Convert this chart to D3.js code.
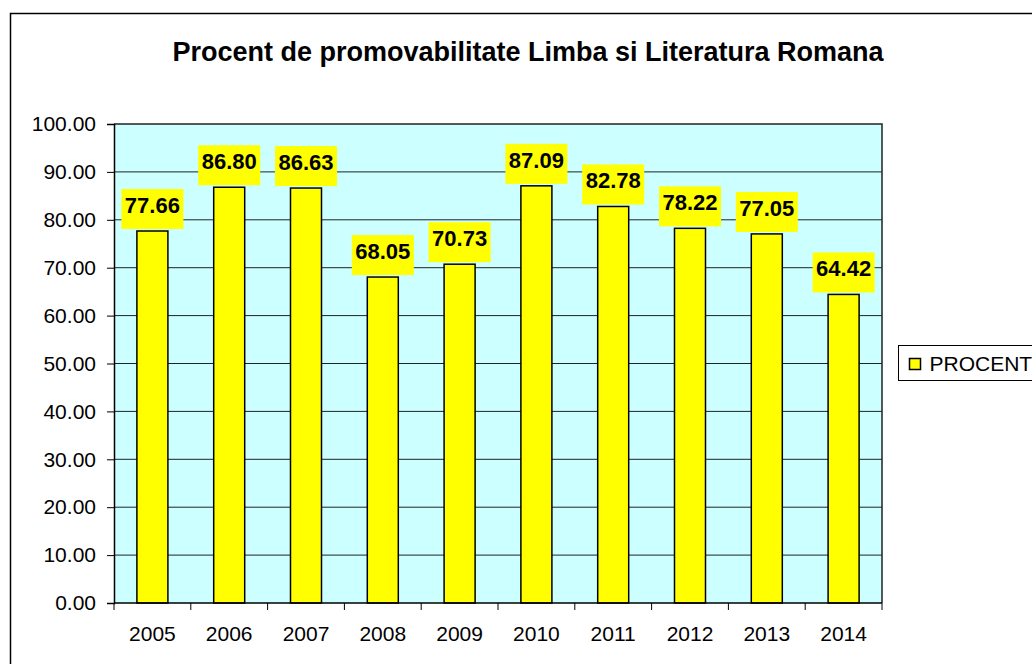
<!DOCTYPE html>
<html>
<head>
<meta charset="utf-8">
<script src="https://cdn.jsdelivr.net/npm/d3@7"></script>
<style>
  body { margin: 0; background: #fff; }
  svg { display: block; font-family: "Liberation Sans", Arial, sans-serif; }
</style>
</head>
<body>
<script>
// chart data
var years = ["2005", "2006", "2007", "2008", "2009", "2010", "2011", "2012", "2013", "2014"]
var procent = [77.66, 86.80, 86.63, 68.05, 70.73, 87.09, 82.78, 78.22, 77.05, 64.42]
var yTicks = [0, 10, 20, 30, 40, 50, 60, 70, 80, 90, 100]
var seriesName = "PROCENT"
var title = "Procent de promovabilitate Limba si Literatura Romana"

var W = 1032, H = 664
var plot = {left: 114, right: 882, top: 124, bottom: 603}

var svg = d3.select("body").append("svg")
    .attr("width", W)
    .attr("height", H)

// outer chart border (runs off the right and bottom)
svg.append("rect")
    .attr("x", 10.5).attr("y", 13.5)
    .attr("width", W + 20).attr("height", H + 20)
    .attr("fill", "#fff").attr("stroke", "#000").attr("stroke-width", 1.5)

svg.append("text")
    .attr("x", 528).attr("y", 61)
    .attr("text-anchor", "middle")
    .style("font-size", "27px").style("font-weight", "bold")
    .text(title)

var x = d3.scaleBand()
    .domain(years)
    .range([plot.left, plot.right])

var y = d3.scaleLinear()
    .domain([0, 100])
    .range([plot.bottom, plot.top])

// plot background
svg.append("rect")
    .attr("x", plot.left).attr("y", plot.top)
    .attr("width", plot.right - plot.left).attr("height", plot.bottom - plot.top)
    .attr("fill", "#ccffff")

// gridlines
svg.append("g").selectAll("line")
    .data(yTicks.filter(function(d) { return d > 0 && d < 100 }))
    .enter().append("line")
    .attr("x1", plot.left).attr("x2", plot.right)
    .attr("y1", function(d) { return y(d) }).attr("y2", function(d) { return y(d) })
    .attr("stroke", "#222").attr("stroke-width", 1)

// plot border top / right
svg.append("path")
    .attr("d", "M" + plot.left + "," + plot.top + "H" + plot.right + "V" + plot.bottom)
    .attr("fill", "none").attr("stroke", "#222").attr("stroke-width", 1.5)

// bars
svg.append("g").selectAll("rect")
    .data(procent)
    .enter().append("rect")
    .attr("x", function(d, i) { return x(years[i]) + x.bandwidth() / 2 - 15.5 })
    .attr("width", 31)
    .attr("y", function(d) { return y(d) })
    .attr("height", function(d) { return plot.bottom - y(d) })
    .attr("fill", "#ffff00")
    .attr("stroke", "#000").attr("stroke-width", 1.5)

// y axis
var yAxis = svg.append("g")
    .attr("transform", "translate(" + plot.left + ",0)")
    .call(d3.axisLeft(y).tickValues(yTicks).tickSize(7).tickPadding(11).tickFormat(d3.format(".2f")))
yAxis.selectAll("text").style("font-size", "21px").attr("fill", "#000")
yAxis.select(".domain").attr("stroke", "#000").attr("stroke-width", 1.5)
yAxis.selectAll(".tick line").attr("stroke", "#000")

// x axis: ticks at category boundaries
var boundaries = d3.range(years.length + 1).map(function(i) { return plot.left + i * x.step() })
svg.append("line")
    .attr("x1", plot.left).attr("x2", plot.right)
    .attr("y1", plot.bottom).attr("y2", plot.bottom)
    .attr("stroke", "#000").attr("stroke-width", 1.5)
svg.append("g").selectAll("line")
    .data(boundaries)
    .enter().append("line")
    .attr("x1", function(d) { return d }).attr("x2", function(d) { return d })
    .attr("y1", plot.bottom).attr("y2", plot.bottom + 7)
    .attr("stroke", "#000")
svg.append("g").selectAll("text")
    .data(years)
    .enter().append("text")
    .attr("x", function(d) { return x(d) + x.bandwidth() / 2 })
    .attr("y", 641)
    .attr("text-anchor", "middle")
    .style("font-size", "21px")
    .text(function(d) { return d })

// value labels
var labels = svg.append("g").selectAll("g")
    .data(procent)
    .enter().append("g")
    .attr("transform", function(d, i) {
        return "translate(" + (x(years[i]) + x.bandwidth() / 2) + "," + (y(d) - 2) + ")"
    })
labels.append("rect")
    .attr("x", -31).attr("y", -40)
    .attr("width", 62).attr("height", 40)
    .attr("fill", "#ffff00")
labels.append("text")
    .attr("y", -16)
    .attr("text-anchor", "middle")
    .style("font-size", "22px").style("font-weight", "bold")
    .text(function(d) { return d.toFixed(2) })

// legend
var legend = svg.append("g").attr("transform", "translate(898.5,345.5)")
legend.append("rect")
    .attr("width", 160).attr("height", 35)
    .attr("fill", "#fff").attr("stroke", "#000").attr("stroke-width", 1)
legend.append("rect")
    .attr("x", 11).attr("y", 13)
    .attr("width", 11).attr("height", 11)
    .attr("fill", "#ffff00").attr("stroke", "#000").attr("stroke-width", 1.5)
legend.append("text")
    .attr("x", 31).attr("y", 25)
    .style("font-size", "21px")
    .text(seriesName)
</script>
</body>
</html>
